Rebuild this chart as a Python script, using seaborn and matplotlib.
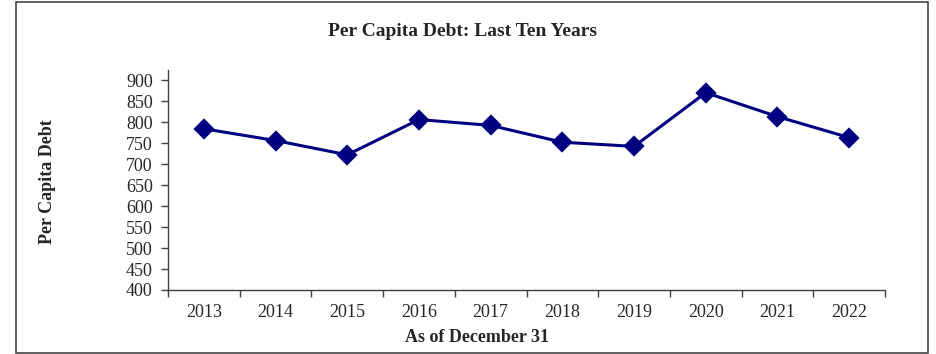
import matplotlib
matplotlib.use("Agg")
import matplotlib.pyplot as plt
import numpy as np
import pandas as pd
import seaborn as sns
from matplotlib.patches import Rectangle

years = ["2013", "2014", "2015", "2016", "2017", "2018", "2019", "2020", "2021", "2022"]
debt = [784, 756, 722, 806, 792, 752, 742, 870, 813, 763]

df = pd.DataFrame({"year": years, "debt": debt})

sns.set_theme(style="white")
plt.rcParams['font.family'] = ['Liberation Serif', 'DejaVu Serif']

fig = plt.figure(figsize=(9.37, 3.54), dpi=100)
ax = fig.add_axes([168/937, 64/354, (885-168)/937, 220/354])

sns.pointplot(data=df, x="year", y="debt", color="#000080", markers="D",
              markersize=9, linewidth=2.2, ax=ax)

ax.set_ylim(400, 924)
ax.set_xlim(-0.5, 9.5)
ax.set_yticks(np.arange(400, 901, 50))
ax.set_xticks(np.arange(-0.5, 10, 1), minor=True)
ax.tick_params(axis="x", which="major", length=0, pad=10, labelsize=13)
ax.tick_params(axis="x", which="minor", length=5, width=1, color="#404040", bottom=True)
ax.tick_params(axis="y", which="major", length=5, width=1, color="#404040", left=True, labelsize=13, pad=6)
ax.set_xlabel("")
ax.set_ylabel("")
for s in ["top", "right"]:
    ax.spines[s].set_visible(False)
for s in ["left", "bottom"]:
    ax.spines[s].set_color("#404040")
    ax.spines[s].set_linewidth(1)

fig.text(463/937, 1 - 32/354, "Per Capita Debt: Last Ten Years", ha="center", va="center",
         fontsize=14, fontweight="bold")
fig.text(477/937, 1 - 338/354, "As of December 31", ha="center", va="center",
         fontsize=13, fontweight="bold")
fig.text(48/937, 1 - 182/354, "Per Capita Debt", ha="center", va="center",
         rotation=90, fontsize=13, fontweight="bold")

fig.patches.append(Rectangle((16/937, 1/354), (928-16)/937, 351/354, transform=fig.transFigure,
                             fill=False, edgecolor="#444444", linewidth=1.2))

fig.savefig("out.png", dpi=100)
